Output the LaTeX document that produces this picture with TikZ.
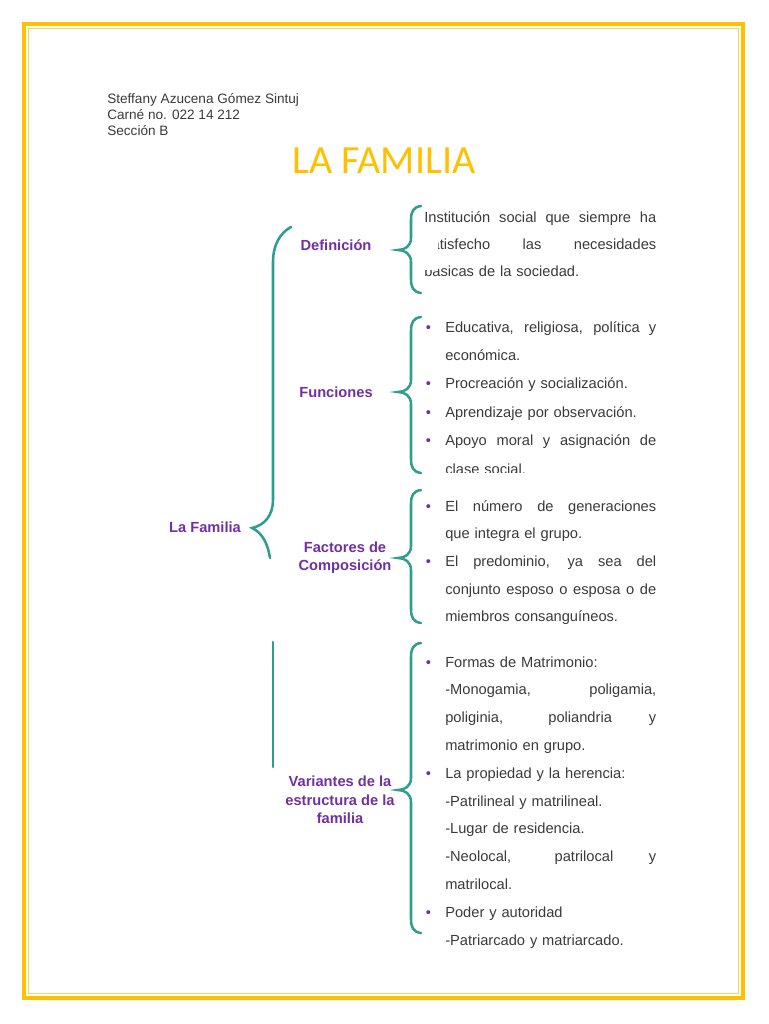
\documentclass[tikz,border=0pt]{standalone}
\usepackage{fontspec}
\setmainfont{Liberation Sans}
\newfontfamily\titulofont{Carlito}
\usetikzlibrary{positioning}
\definecolor{oro}{RGB}{255,192,0}
\definecolor{oroclaro}{RGB}{255,212,80}
\definecolor{turquesa}{RGB}{46,158,142}
\definecolor{morado}{RGB}{112,48,160}
\definecolor{tinta}{RGB}{58,58,58}

% bullet and indent for the list lines
\newcommand{\vin}{\makebox[15.75pt][l]{\hspace{1.2pt}\textcolor{morado}{\textbullet}}}
\newcommand{\sig}{\hspace*{15.75pt}}
\newcommand{\llena}[2]{\makebox[#1][s]{\spaceskip=0.278em plus 1fil\relax #2}}

% curly brace: x of the ends, top, tip, bottom
\newcommand{\llave}[4]{%
  \draw[llave] (#1,#2) .. controls (#1-8,#2+1) and (#1-10,#2+6) .. (#1-10,#2+14)
    -- (#1-10,#3-12) .. controls (#1-10,#3-4) and (#1-16,#3) .. (#1-23,#3)
    .. controls (#1-16,#3) and (#1-10,#3+4) .. (#1-10,#3+12)
    -- (#1-10,#4-14) .. controls (#1-10,#4-6) and (#1-8,#4-1) .. (#1,#4);}

\tikzset{
  llave/.style={draw=turquesa, line width=1.9pt, line cap=round},
  etiqueta/.style={font=\bfseries\fontsize{11}{14}\selectfont, text=morado, align=center},
  cuerpo/.style={text=tinta, align=left, inner sep=0pt, text width=180pt},
}

\begin{document}
\begin{tikzpicture}[x=0.75pt, y=-0.75pt]
  \useasboundingbox (0,0) rectangle (768,1024);

  % page frame
  \draw[oro, line width=3pt] (24,24) rectangle (743,998);
  \draw[oroclaro, line width=0.8pt] (28.5,28.5) rectangle (738.5,993.5);

  % header
  \node[anchor=north west, align=left, inner sep=0pt, text=tinta,
        font=\fontsize{10.2}{12}\selectfont] (autora) at (107,93)
    {Steffany Azucena Gómez Sintuj\\Carné no. 022 14 212\\Sección B};
  \node[font=\titulofont\fontsize{30}{30}\selectfont, text=oro] (titulo) at (384,161) {LA FAMILIA};

  % labels
  \node[etiqueta] (familia) at (205,527) {La Familia};
  \node[etiqueta] (definicion) at (336,245) {Definición};
  \node[etiqueta] (funciones) at (336,392) {Funciones};
  \node[etiqueta, font=\bfseries\fontsize{11}{13.5}\selectfont] (factores) at (345,558) {Factores de\\Composición};
  \node[etiqueta] (variantes) at (340,800) {Variantes de la\\estructura de la\\familia};

  % text blocks
  \node[cuerpo, anchor=base west, font=\fontsize{11}{20.25}\selectfont] (texdef) at (424,222)
    {\llena{174pt}{Institución social que siempre ha}\\
     \llena{174pt}{satisfecho las necesidades}\\
     básicas de la sociedad.};
  \fill[white] (413,231) rectangle (438,270);

  \begin{scope}
    \clip (400,300) rectangle (700,472);
    \node[cuerpo, anchor=base west, font=\fontsize{11}{21.3}\selectfont] (texfun) at (424,332)
      {\vin\llena{158.25pt}{Educativa, religiosa, política y}\\
       \sig económica.\\
       \vin Procreación y socialización.\\
       \vin Aprendizaje por observación.\\
       \vin\llena{158.25pt}{Apoyo moral y asignación de}\\
       \sig clase social.};
  \end{scope}

  \node[cuerpo, anchor=base west, font=\fontsize{11}{20.8}\selectfont] (texfac) at (424,511)
    {\vin\llena{158.25pt}{El número de generaciones}\\
     \sig que integra el grupo.\\
     \vin\llena{158.25pt}{El predominio, ya sea del}\\
     \sig\llena{158.25pt}{conjunto esposo o esposa o de}\\
     \sig miembros consanguíneos.};

  \node[cuerpo, anchor=base west, font=\fontsize{11}{20.85}\selectfont] (texvar) at (424,667)
    {\vin Formas de Matrimonio:\\
     \sig\llena{158.25pt}{-Monogamia, poligamia,}\\
     \sig\llena{158.25pt}{poliginia, poliandria y}\\
     \sig matrimonio en grupo.\\
     \vin La propiedad y la herencia:\\
     \sig -Patrilineal y matrilineal.\\
     \sig -Lugar de residencia.\\
     \sig\llena{158.25pt}{-Neolocal, patrilocal y}\\
     \sig matrilocal.\\
     \vin Poder y autoridad\\
     \sig -Patriarcado y matriarcado.};

  % braces
  \draw[llave] (291,227) .. controls (280,233) and (273,245) .. (273,262)
    -- (273,500) .. controls (273,515) and (265,525) .. (252,528)
    .. controls (263,533) and (268,545) .. (270,558);
  \draw[llave] (273,642) -- (273,767);
  \llave{421}{206}{250}{293}
  \llave{421}{317}{392}{473}
  \llave{421}{490}{558}{623}
  \llave{421}{643}{790}{933}
\end{tikzpicture}
\end{document}
